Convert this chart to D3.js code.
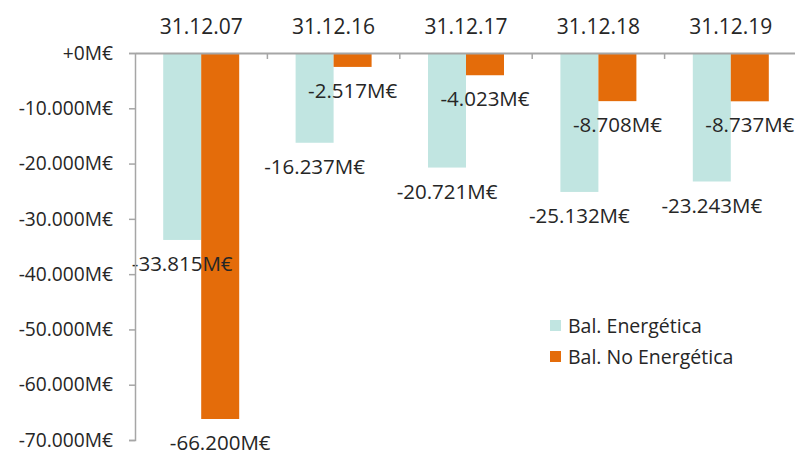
<!DOCTYPE html>
<html>
<head>
<meta charset="utf-8">
<script src="https://cdn.jsdelivr.net/npm/d3@7"></script>
<style>
  body { margin: 0; background: #fff; }
  text { font-family: "Open Sans", sans-serif; fill: #262626; }
</style>
</head>
<body>
<svg id="chart" width="795" height="452"></svg>
<script>
// data
const dates = ["31.12.07", "31.12.16", "31.12.17", "31.12.18", "31.12.19"];
const energetica = [-33815, -16237, -20721, -25132, -23243];
const noEnergetica = [-66200, -2517, -4023, -8708, -8737];
const seriesNames = ["Bal. Energética", "Bal. No Energética"];
const seriesColors = ["#c1e5e1", "#e46c0a"];
const yTicks = [0, -10000, -20000, -30000, -40000, -50000, -60000, -70000];

const plotLeft = 135, plotRight = 797, plotTop = 53, plotBottom = 440;

const svg = d3.select("#chart");

const x = d3.scaleBand().domain(dates).range([plotLeft, plotRight]);
const inner = d3.scaleBand().domain([0, 1]).range([0, 76]);
const y = d3.scaleLinear().domain([0, -70000]).range([plotTop, plotBottom]);

const fmt = v => {
  const s = d3.format(",")(Math.abs(v)).replace(/,/g, ".");
  return (v < 0 ? "-" : "+") + s + "M€";
};

// bars
const rows = dates.map((d, i) => ({ date: d, vals: [energetica[i], noEnergetica[i]] }));
const groups = svg.selectAll(".grp").data(rows).join("g")
  .attr("class", "grp")
  .attr("transform", d => `translate(${x(d.date) + (x.bandwidth() - 76) / 2},0)`);

groups.selectAll("rect").data(d => d.vals).join("rect")
  .attr("x", (v, i) => inner(i))
  .attr("width", inner.bandwidth())
  .attr("y", y(0))
  .attr("height", v => y(v) - y(0))
  .attr("fill", (v, i) => seriesColors[i]);

groups.selectAll(".lbl").data(d => d.vals).join("text")
  .attr("class", "lbl")
  .attr("x", (v, i) => inner(i) + inner.bandwidth() / 2)
  .attr("y", v => Math.min(y(v) + 31, 450))
  .attr("text-anchor", "middle")
  .attr("font-size", 20.5)
  .text(fmt);

// y axis (drawn over the labels, like the original)
const yAxis = d3.axisLeft(y).tickValues(yTicks).tickSize(6).tickPadding(16).tickFormat(fmt);
const gy = svg.append("g").attr("transform", `translate(${plotLeft},0)`).call(yAxis);
gy.select(".domain").attr("stroke", "#a6a6a6").attr("stroke-width", 1.5);
gy.selectAll(".tick line").attr("stroke", "#a6a6a6").attr("stroke-width", 1.5);
gy.selectAll(".tick text").attr("font-size", 19.2).attr("font-family", "Open Sans").attr("fill", "#262626");

// x axis at zero
const xAxis = d3.axisBottom(x).tickSize(0).tickFormat("");
const gx = svg.append("g").attr("transform", `translate(0,${y(0)})`).call(xAxis);
gx.select(".domain").attr("stroke", "#a6a6a6").attr("stroke-width", 2);
gx.selectAll(".tick").remove();
svg.selectAll(".xt").data(dates.slice(1)).join("line")
  .attr("x1", d => x(d)).attr("x2", d => x(d))
  .attr("y1", y(0)).attr("y2", y(0) + 6)
  .attr("stroke", "#a6a6a6").attr("stroke-width", 1.5);

svg.selectAll(".cat").data(dates).join("text")
  .attr("class", "cat")
  .attr("x", d => x(d) + x.bandwidth() / 2)
  .attr("y", 34)
  .attr("text-anchor", "middle")
  .attr("font-size", 21)
  .text(d => d);

// legend
const leg = svg.selectAll(".leg").data(seriesNames).join("g")
  .attr("class", "leg")
  .attr("transform", (d, i) => `translate(550,${320 + i * 31})`);
leg.append("rect").attr("width", 11).attr("height", 11).attr("fill", (d, i) => seriesColors[i]);
leg.append("text").attr("x", 18).attr("y", 6).attr("dy", "0.35em").attr("font-size", 19.5).text(d => d);
</script>
</body>
</html>
